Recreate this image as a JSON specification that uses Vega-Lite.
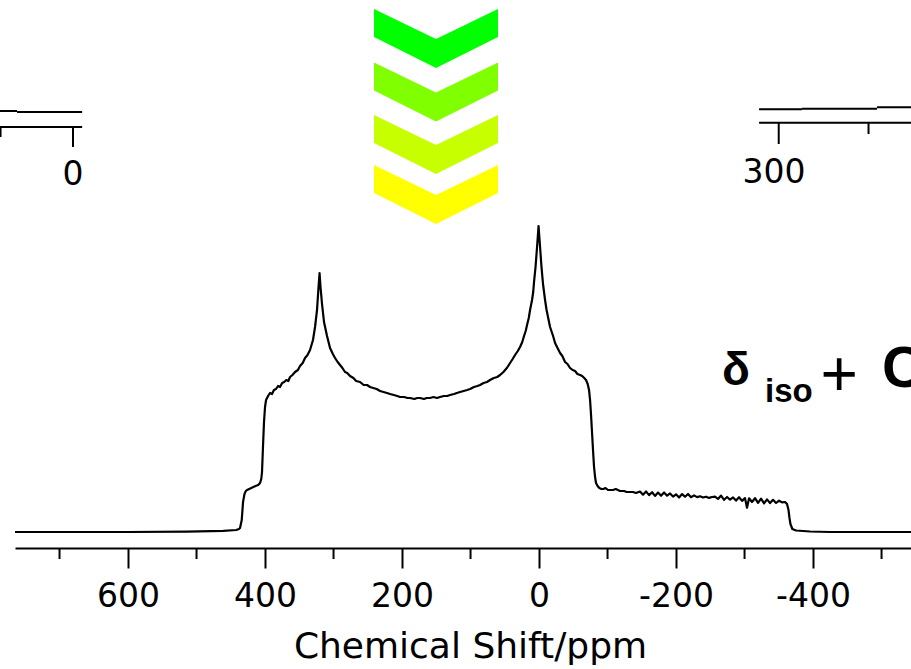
{
  "$schema": "https://vega.github.io/schema/vega-lite/v6.json",
  "width": 896,
  "height": 548,
  "autosize": "none",
  "padding": {"left": 15, "top": 0, "right": 0, "bottom": 121},
  "background": "white",
  "config": {"view": {"stroke": null}},
  "datasets": {
    "spectrum": [
      {"ppm": 765, "i": 0}, {"ppm": 600, "i": 0}, {"ppm": 514, "i": 0.3}, {"ppm": 461, "i": 1.2}, {"ppm": 442, "i": 2},
      {"ppm": 438, "i": 3}, {"ppm": 436.5, "i": 4}, {"ppm": 434, "i": 12}, {"ppm": 432.1, "i": 30}, {"ppm": 430, "i": 38},
      {"ppm": 428, "i": 41}, {"ppm": 426.3, "i": 42}, {"ppm": 420, "i": 44}, {"ppm": 414, "i": 46}, {"ppm": 410, "i": 47},
      {"ppm": 407.3, "i": 49}, {"ppm": 405.5, "i": 53}, {"ppm": 404.4, "i": 60}, {"ppm": 403, "i": 85}, {"ppm": 401.5, "i": 110},
      {"ppm": 400, "i": 125}, {"ppm": 398.5, "i": 132}, {"ppm": 395.6, "i": 136}, {"ppm": 392.7, "i": 139}, {"ppm": 389.8, "i": 138},
      {"ppm": 387, "i": 142}, {"ppm": 384, "i": 143}, {"ppm": 381, "i": 146}, {"ppm": 378.1, "i": 145}, {"ppm": 375, "i": 149},
      {"ppm": 372, "i": 150}, {"ppm": 369, "i": 152}, {"ppm": 366, "i": 151}, {"ppm": 363.5, "i": 155}, {"ppm": 360, "i": 157},
      {"ppm": 356.2, "i": 160}, {"ppm": 352, "i": 162}, {"ppm": 348.9, "i": 166}, {"ppm": 345, "i": 169}, {"ppm": 341.6, "i": 174},
      {"ppm": 338, "i": 177}, {"ppm": 334.3, "i": 182}, {"ppm": 330, "i": 192}, {"ppm": 327, "i": 205}, {"ppm": 324.1, "i": 222},
      {"ppm": 321.9, "i": 245}, {"ppm": 320.4, "i": 259}, {"ppm": 319, "i": 245}, {"ppm": 316.8, "i": 228}, {"ppm": 313.9, "i": 210},
      {"ppm": 309.5, "i": 196}, {"ppm": 305.1, "i": 184}, {"ppm": 301, "i": 178}, {"ppm": 297.8, "i": 174}, {"ppm": 294, "i": 170},
      {"ppm": 290.5, "i": 167}, {"ppm": 287, "i": 164}, {"ppm": 283.2, "i": 160}, {"ppm": 280, "i": 159}, {"ppm": 275.9, "i": 156},
      {"ppm": 271, "i": 154}, {"ppm": 267, "i": 151}, {"ppm": 261.3, "i": 150}, {"ppm": 256, "i": 147}, {"ppm": 251, "i": 147},
      {"ppm": 246.7, "i": 145}, {"ppm": 242, "i": 144}, {"ppm": 237, "i": 143}, {"ppm": 232.1, "i": 141}, {"ppm": 227, "i": 140},
      {"ppm": 222, "i": 139}, {"ppm": 217.5, "i": 138}, {"ppm": 212, "i": 137}, {"ppm": 207, "i": 136}, {"ppm": 202.9, "i": 135},
      {"ppm": 197, "i": 135}, {"ppm": 192, "i": 134}, {"ppm": 188.3, "i": 134}, {"ppm": 182, "i": 133}, {"ppm": 178, "i": 134},
      {"ppm": 173.7, "i": 134}, {"ppm": 168, "i": 133}, {"ppm": 164, "i": 134}, {"ppm": 159.1, "i": 134}, {"ppm": 154, "i": 135},
      {"ppm": 149, "i": 134}, {"ppm": 144.5, "i": 135}, {"ppm": 139, "i": 136}, {"ppm": 134, "i": 136}, {"ppm": 129.9, "i": 137},
      {"ppm": 124, "i": 138}, {"ppm": 120, "i": 139}, {"ppm": 115.3, "i": 140}, {"ppm": 110, "i": 141}, {"ppm": 105, "i": 142},
      {"ppm": 100.7, "i": 143}, {"ppm": 95, "i": 145}, {"ppm": 90, "i": 146}, {"ppm": 86.1, "i": 147}, {"ppm": 81, "i": 149},
      {"ppm": 76, "i": 150}, {"ppm": 71.5, "i": 152}, {"ppm": 66, "i": 154}, {"ppm": 61, "i": 155}, {"ppm": 56.9, "i": 157},
      {"ppm": 52, "i": 160}, {"ppm": 47, "i": 164}, {"ppm": 42.3, "i": 169}, {"ppm": 38.5, "i": 173}, {"ppm": 35, "i": 177},
      {"ppm": 31, "i": 181}, {"ppm": 27.7, "i": 185}, {"ppm": 24.5, "i": 190}, {"ppm": 21.9, "i": 196}, {"ppm": 19.5, "i": 201},
      {"ppm": 17.5, "i": 207}, {"ppm": 15, "i": 214}, {"ppm": 13.1, "i": 222}, {"ppm": 10.2, "i": 232}, {"ppm": 8.5, "i": 240},
      {"ppm": 7.3, "i": 250}, {"ppm": 5.1, "i": 265}, {"ppm": 2.9, "i": 285}, {"ppm": 0.7, "i": 306}, {"ppm": -1.5, "i": 285},
      {"ppm": -3.6, "i": 265}, {"ppm": -5.8, "i": 248}, {"ppm": -8.8, "i": 232}, {"ppm": -11, "i": 222}, {"ppm": -13.1, "i": 215},
      {"ppm": -16.1, "i": 205}, {"ppm": -20.5, "i": 196}, {"ppm": -23.4, "i": 189}, {"ppm": -27, "i": 184}, {"ppm": -30.7, "i": 179},
      {"ppm": -34, "i": 176}, {"ppm": -38, "i": 170}, {"ppm": -41.5, "i": 168}, {"ppm": -45.3, "i": 164}, {"ppm": -49, "i": 162},
      {"ppm": -52.6, "i": 161}, {"ppm": -56, "i": 158}, {"ppm": -59.9, "i": 157}, {"ppm": -63, "i": 156}, {"ppm": -66, "i": 154},
      {"ppm": -68.6, "i": 152}, {"ppm": -71, "i": 148}, {"ppm": -73, "i": 142}, {"ppm": -74.5, "i": 132}, {"ppm": -76, "i": 116},
      {"ppm": -77.4, "i": 99}, {"ppm": -78.8, "i": 82}, {"ppm": -80.3, "i": 65}, {"ppm": -81.8, "i": 55}, {"ppm": -83.2, "i": 49},
      {"ppm": -85.5, "i": 46}, {"ppm": -88, "i": 44}, {"ppm": -91, "i": 43}, {"ppm": -94, "i": 43}, {"ppm": -97, "i": 44},
      {"ppm": -100.7, "i": 42}, {"ppm": -104, "i": 42}, {"ppm": -108, "i": 42}, {"ppm": -112, "i": 43}, {"ppm": -118.2, "i": 41},
      {"ppm": -124, "i": 41}, {"ppm": -128, "i": 40}, {"ppm": -132.8, "i": 40}, {"ppm": -137, "i": 40}, {"ppm": -141.6, "i": 39},
      {"ppm": -147.4, "i": 40.5}, {"ppm": -151.8, "i": 37.3}, {"ppm": -156.2, "i": 40.6}, {"ppm": -160.6, "i": 36.9}, {"ppm": -165, "i": 39.8},
      {"ppm": -169.3, "i": 36.1}, {"ppm": -173.7, "i": 39.4}, {"ppm": -178.1, "i": 36.2}, {"ppm": -182.5, "i": 39.5}, {"ppm": -186.9, "i": 36.3},
      {"ppm": -191.2, "i": 38.6}, {"ppm": -195.6, "i": 35.4}, {"ppm": -200, "i": 37.7}, {"ppm": -204.4, "i": 34.5}, {"ppm": -208.8, "i": 37.9},
      {"ppm": -213.1, "i": 35.2}, {"ppm": -217.5, "i": 38}, {"ppm": -221.9, "i": 34.8}, {"ppm": -226.3, "i": 36.6}, {"ppm": -230.7, "i": 34.9},
      {"ppm": -235, "i": 35.7}, {"ppm": -239.4, "i": 34.5}, {"ppm": -243.8, "i": 35.3}, {"ppm": -248.2, "i": 34.1}, {"ppm": -252.6, "i": 35},
      {"ppm": -256.9, "i": 35.3}, {"ppm": -261.3, "i": 33.1}, {"ppm": -265.7, "i": 36.4}, {"ppm": -270.1, "i": 32.2}, {"ppm": -274.5, "i": 35},
      {"ppm": -278.8, "i": 32.3}, {"ppm": -283.2, "i": 34.6}, {"ppm": -287.6, "i": 31.4}, {"ppm": -292, "i": 34.8}, {"ppm": -296.4, "i": 31.1},
      {"ppm": -300.7, "i": 33.9}, {"ppm": -303.6, "i": 24.3}, {"ppm": -306.6, "i": 33.7}, {"ppm": -310.9, "i": 30}, {"ppm": -315.3, "i": 33.8},
      {"ppm": -319.7, "i": 29.1}, {"ppm": -324.1, "i": 33.4}, {"ppm": -328.5, "i": 28.7}, {"ppm": -332.8, "i": 32.6}, {"ppm": -337.2, "i": 28.9},
      {"ppm": -341.6, "i": 32.2}, {"ppm": -346, "i": 29}, {"ppm": -350.4, "i": 31.3}, {"ppm": -354.7, "i": 29.6}, {"ppm": -359.1, "i": 30},
      {"ppm": -362, "i": 28}, {"ppm": -364.2, "i": 22}, {"ppm": -365.6, "i": 14}, {"ppm": -367, "i": 8}, {"ppm": -369.8, "i": 3},
      {"ppm": -375.2, "i": 1.5}, {"ppm": -395.6, "i": 0.5}, {"ppm": -424.8, "i": 0}, {"ppm": -543, "i": 0}
    ]
  },
  "layer": [
    {
      "data": {"name": "spectrum"},
      "mark": {"type": "line", "color": "black", "strokeWidth": 2.2, "strokeJoin": "round"},
      "encoding": {
        "x": {
          "field": "ppm", "type": "quantitative",
          "scale": {"domain": [765, -543], "nice": false, "zero": false},
          "axis": {
            "values": [600, 400, 200, 0, -200, -400],
            "labelExpr": "'' + datum.value",
            "grid": false,
            "domainColor": "black", "domainWidth": 2.2,
            "tickColor": "black", "tickWidth": 2, "tickSize": 20,
            "labelFont": "DejaVu Sans", "labelFontSize": 33, "labelColor": "black",
            "labelPadding": 12, "labelFlush": false, "labelOverlap": false,
            "title": "Chemical Shift/ppm",
            "titleFont": "DejaVu Sans", "titleFontSize": 36, "titleFontWeight": "normal", "titleColor": "black",
            "titleX": 455, "titleY": 109, "titleBaseline": "alphabetic", "titleAlign": "center"
          }
        },
        "y": {
          "field": "i", "type": "quantitative",
          "scale": {"domain": [-16, 532], "nice": false, "zero": false},
          "axis": null
        }
      }
    },
    {
      "data": {"values": [{"ppm": 700}, {"ppm": 500}, {"ppm": 300}, {"ppm": 100}, {"ppm": -100}, {"ppm": -300}, {"ppm": -500}]},
      "mark": {"type": "rule", "color": "black", "strokeWidth": 2},
      "encoding": {
        "x": {"field": "ppm", "type": "quantitative"},
        "y": {"datum": -16, "type": "quantitative"},
        "y2": {"datum": -27}
      }
    },
    {
      "data": {"values": [
        {"ppm": 787, "ppm2": 762, "i": 421, "i2": 421},
        {"ppm": 762, "ppm2": 667, "i": 420, "i2": 420},
        {"ppm": 787, "ppm2": 667, "i": 405, "i2": 405},
        {"ppm": 680.3, "ppm2": 680.3, "i": 405, "i2": 385},
        {"ppm": 786.1, "ppm2": 786.1, "i": 405, "i2": 395},
        {"ppm": -321.2, "ppm2": -383.9, "i": 422.7, "i2": 422.7},
        {"ppm": -383.9, "ppm2": -493.4, "i": 423.3, "i2": 423.3},
        {"ppm": -493.4, "ppm2": -560, "i": 424.7, "i2": 424.7},
        {"ppm": -321.2, "ppm2": -560, "i": 409.3, "i2": 409.3},
        {"ppm": -349.9, "ppm2": -349.9, "i": 409.3, "i2": 388},
        {"ppm": -481, "ppm2": -481, "i": 409.3, "i2": 398}
      ]},
      "mark": {"type": "rule", "color": "black", "strokeWidth": 2},
      "encoding": {
        "x": {"field": "ppm", "type": "quantitative"},
        "x2": {"field": "ppm2"},
        "y": {"field": "i", "type": "quantitative"},
        "y2": {"field": "i2"}
      }
    },
    {
      "data": {"values": [{"ppm": 680.3, "i": 347, "label": "0"}, {"ppm": -343.1, "i": 349.3, "label": "300"}]},
      "mark": {"type": "text", "font": "DejaVu Sans", "fontSize": 33, "color": "black", "align": "center", "baseline": "alphabetic"},
      "encoding": {
        "x": {"field": "ppm", "type": "quantitative"},
        "y": {"field": "i", "type": "quantitative"},
        "text": {"field": "label"}
      }
    },
    {
      "data": {"values": [
        {"ppm": 150.4, "i": 493.5, "step": "1"},
        {"ppm": 150.4, "i": 440, "step": "2"},
        {"ppm": 150.4, "i": 387.5, "step": "3"},
        {"ppm": 150.4, "i": 337.5, "step": "4"}
      ]},
      "mark": {"type": "point", "shape": "M-1,-0.476L0,0.008L1,-0.476L1,-0.024L0,0.476L-1,-0.024Z", "filled": true, "size": 15376, "opacity": 1, "strokeWidth": 0},
      "encoding": {
        "x": {"field": "ppm", "type": "quantitative"},
        "y": {"field": "i", "type": "quantitative"},
        "color": {"field": "step", "type": "nominal", "scale": {"domain": ["1", "2", "3", "4"], "range": ["#00ff00", "#80ff00", "#c8ff00", "#ffff00"]}, "legend": null}
      }
    },
    {
      "data": {"values": [{"ppm": -267.2, "i": 147, "label": "δ"}]},
      "mark": {"type": "text", "font": "Liberation Sans", "fontSize": 46, "fontWeight": "bold", "color": "black", "align": "left", "baseline": "alphabetic"},
      "encoding": {
        "x": {"field": "ppm", "type": "quantitative"},
        "y": {"field": "i", "type": "quantitative"},
        "text": {"field": "label"}
      }
    },
    {
      "data": {"values": [{"ppm": -329.9, "i": 130, "label": "iso"}]},
      "mark": {"type": "text", "font": "Liberation Sans", "fontSize": 33, "fontWeight": "bold", "color": "black", "align": "left", "baseline": "alphabetic"},
      "encoding": {
        "x": {"field": "ppm", "type": "quantitative"},
        "y": {"field": "i", "type": "quantitative"},
        "text": {"field": "label"}
      }
    },
    {
      "data": {"values": [{"ppm": -438, "i": 136, "label": "+"}]},
      "mark": {"type": "text", "font": "Liberation Sans", "fontSize": 64, "color": "black", "align": "center", "baseline": "alphabetic"},
      "encoding": {
        "x": {"field": "ppm", "type": "quantitative"},
        "y": {"field": "i", "type": "quantitative"},
        "text": {"field": "label"}
      }
    },
    {
      "data": {"values": [{"ppm": -500.7, "i": 145, "label": "C"}]},
      "mark": {"type": "text", "font": "Liberation Sans", "fontSize": 58, "fontWeight": "bold", "color": "black", "align": "left", "baseline": "alphabetic"},
      "encoding": {
        "x": {"field": "ppm", "type": "quantitative"},
        "y": {"field": "i", "type": "quantitative"},
        "text": {"field": "label"}
      }
    }
  ]
}
